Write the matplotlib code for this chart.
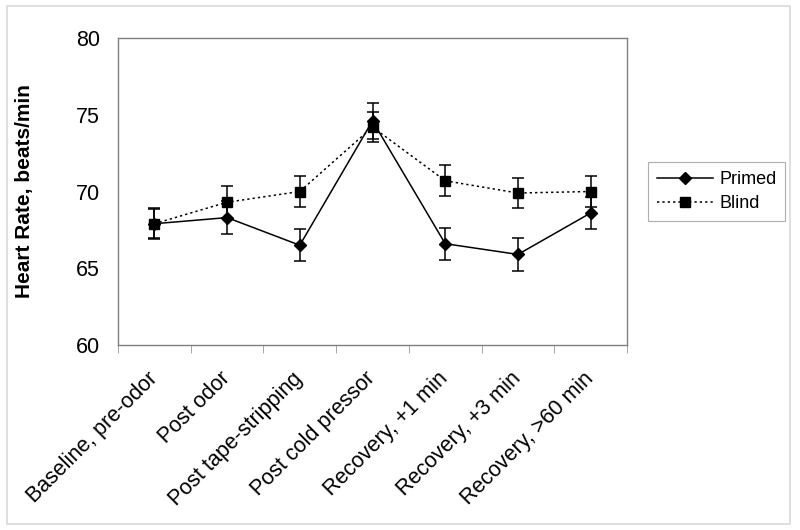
import matplotlib.pyplot as plt
from matplotlib.lines import Line2D
from matplotlib.patches import Rectangle

plt.rcParams["font.family"] = ["Liberation Sans", "DejaVu Sans"]

categories = [
    "Baseline, pre-odor",
    "Post odor",
    "Post tape-stripping",
    "Post cold pressor",
    "Recovery, +1 min",
    "Recovery, +3 min",
    "Recovery, >60 min",
]
primed = [67.9, 68.3, 66.5, 74.6, 66.6, 65.9, 68.6]
primed_err = [1.0, 1.05, 1.05, 1.15, 1.05, 1.05, 1.05]
blind = [67.9, 69.3, 70.0, 74.2, 70.7, 69.9, 70.0]
blind_err = [0.95, 1.05, 1.0, 1.0, 1.0, 1.0, 1.0]

fig = plt.figure(figsize=(8, 5.3), dpi=100)
ax = fig.add_axes([118 / 800, 1 - 345 / 530, (627 - 118) / 800, (345 - 38) / 530])

dots = (0, (1.5, 2))
x = list(range(len(categories)))
ax.errorbar(x, primed, yerr=primed_err, color="black", lw=1.1, marker="D",
            ms=6, capsize=4, elinewidth=1.1, capthick=1.1)
ax.errorbar(x, blind, yerr=blind_err, color="black", lw=1.1, ls=dots,
            marker="s", ms=7, capsize=4, elinewidth=1.1, capthick=1.1)

ax.set_xlim(-0.5, len(categories) - 0.5)
ax.set_ylim(60, 80)
ax.set_yticks([60, 65, 70, 75, 80])
ax.set_xticks(x)
ax.set_xticklabels(categories, rotation=45, ha="right", va="center",
                   rotation_mode="anchor")
ax.set_xticks([i - 0.5 for i in range(len(categories) + 1)], minor=True)
ax.tick_params(axis="x", which="major", length=0, pad=22, labelsize=15.5)
ax.tick_params(axis="x", which="minor", length=6, color="#999999")
ax.tick_params(axis="y", length=0, pad=13, labelsize=15.5)
ax.set_ylabel("Heart Rate, beats/min", fontsize=15, fontweight="bold", labelpad=30)

for s in ax.spines.values():
    s.set_color("#808080")
    s.set_linewidth(1)

handles = [
    Line2D([], [], color="black", lw=1.1, marker="D", ms=6),
    Line2D([], [], color="black", lw=1.1, ls=dots, marker="s", ms=7),
]
leg = ax.legend(handles, ["Primed", "Blind"], loc="center left",
                bbox_to_anchor=(1.041, 0.5), borderaxespad=0, fontsize=13,
                frameon=True, fancybox=False, edgecolor="#999999",
                handlelength=3.1, handletextpad=0.35, borderpad=0.5,
                labelspacing=0.4)
leg.get_frame().set_linewidth(0.8)

fig.patches.append(Rectangle((7 / 800, 1 - 524 / 530), 783 / 800, 518 / 530,
                             transform=fig.transFigure, fill=False,
                             edgecolor="#d9d9d9", lw=1.2))

fig.savefig("out.png", dpi=100)
